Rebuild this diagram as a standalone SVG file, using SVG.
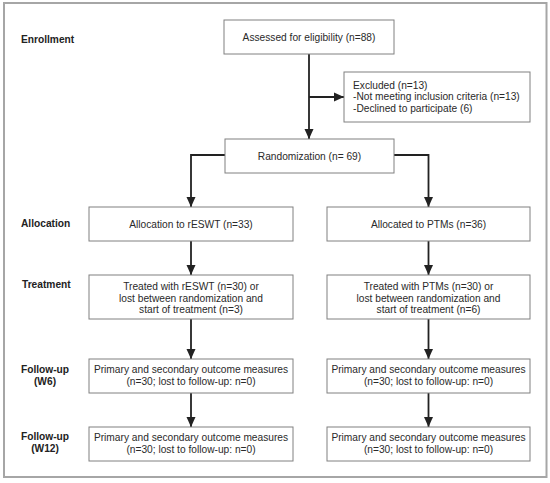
<svg xmlns="http://www.w3.org/2000/svg" width="550" height="483" viewBox="0 0 550 483">
<style>
.box{fill:#fff;stroke:#808080;stroke-width:1}
.t{font-family:"Liberation Sans",Arial,sans-serif;font-size:10.2px;fill:#2a2a2a}
.c{text-anchor:middle}
.lbl{font-family:"Liberation Sans",Arial,sans-serif;font-size:10.2px;font-weight:bold;fill:#222}
.ln{fill:none;stroke:#222;stroke-width:1.8}
</style>
<defs>
<marker id="ah" markerWidth="10" markerHeight="10" viewBox="0 0 10 10" refX="10" refY="5" orient="auto" markerUnits="userSpaceOnUse">
<path d="M0,0.5 L10,5 L0,9.5 Z" fill="#222"/>
</marker>
</defs>
<rect x="0" y="0" width="550" height="483" fill="#fff"/>
<rect x="4" y="3" width="542.5" height="474" fill="#fff" stroke="#a6a6a6" stroke-width="2"/>
<g id="labels">
<text class="lbl" x="21" y="43">Enrollment</text>
<text class="lbl" x="21" y="227">Allocation</text>
<text class="lbl" x="22" y="288">Treatment</text>
<text class="lbl c" x="45" y="373">Follow-up</text>
<text class="lbl c" x="45" y="385">(W6)</text>
<text class="lbl c" x="45" y="440">Follow-up</text>
<text class="lbl c" x="45" y="452">(W12)</text>
</g>
<g id="connectors">
<path class="ln" d="M309,54 V139" marker-end="url(#ah)"/>
<path class="ln" d="M309,97 H344" marker-end="url(#ah)"/>
<path class="ln" d="M225,155 H191 V207" marker-end="url(#ah)"/>
<path class="ln" d="M394,155 H428.5 V207" marker-end="url(#ah)"/>
<path class="ln" d="M191,241 V275" marker-end="url(#ah)"/>
<path class="ln" d="M428.5,241 V275" marker-end="url(#ah)"/>
<path class="ln" d="M191,319 V359" marker-end="url(#ah)"/>
<path class="ln" d="M428.5,319 V359" marker-end="url(#ah)"/>
<path class="ln" d="M191,393 V427" marker-end="url(#ah)"/>
<path class="ln" d="M428.5,393 V427" marker-end="url(#ah)"/>
</g>
<g id="assessed">
<rect class="box" x="224" y="20" width="170" height="34"/>
<text class="t c" x="309" y="41">Assessed for eligibility (n=88)</text>
</g>
<g id="excluded">
<rect class="box" x="344" y="72" width="186" height="50"/>
<text class="t" x="353" y="88.5">Excluded (n=13)</text>
<text class="t" x="353" y="100">-Not meeting inclusion criteria (n=13)</text>
<text class="t" x="353" y="111.5">-Declined to participate (6)</text>
</g>
<g id="randomization">
<rect class="box" x="225" y="139" width="169" height="34"/>
<text class="t c" x="309.5" y="160">Randomization (n= 69)</text>
</g>
<g id="alloc-reswt">
<rect class="box" x="89" y="207" width="204" height="34"/>
<text class="t c" x="191" y="227.5">Allocation to rESWT (n=33)</text>
</g>
<g id="alloc-ptms">
<rect class="box" x="327" y="207" width="203" height="34"/>
<text class="t c" x="428.5" y="227.5">Allocated to PTMs (n=36)</text>
</g>
<g id="treat-reswt">
<rect class="box" x="89" y="275" width="204" height="44"/>
<text class="t c" x="191" y="290">Treated with rESWT (n=30) or</text>
<text class="t c" x="191" y="301.5">lost between randomization and</text>
<text class="t c" x="191" y="313">start of treatment (n=3)</text>
</g>
<g id="treat-ptms">
<rect class="box" x="327" y="275" width="203" height="44"/>
<text class="t c" x="428.5" y="290">Treated with PTMs (n=30) or</text>
<text class="t c" x="428.5" y="301.5">lost between randomization and</text>
<text class="t c" x="428.5" y="313">start of treatment (n=6)</text>
</g>
<g id="w6-reswt">
<rect class="box" x="89" y="359" width="204" height="34"/>
<text class="t c" x="191" y="373">Primary and secondary outcome measures</text>
<text class="t c" x="191" y="384.5">(n=30; lost to follow-up: n=0)</text>
</g>
<g id="w6-ptms">
<rect class="box" x="327" y="359" width="203" height="34"/>
<text class="t c" x="428.5" y="373">Primary and secondary outcome measures</text>
<text class="t c" x="428.5" y="384.5">(n=30; lost to follow-up: n=0)</text>
</g>
<g id="w12-reswt">
<rect class="box" x="89" y="427" width="204" height="34"/>
<text class="t c" x="191" y="441">Primary and secondary outcome measures</text>
<text class="t c" x="191" y="452.5">(n=30; lost to follow-up: n=0)</text>
</g>
<g id="w12-ptms">
<rect class="box" x="327" y="427" width="203" height="34"/>
<text class="t c" x="428.5" y="441">Primary and secondary outcome measures</text>
<text class="t c" x="428.5" y="452.5">(n=30; lost to follow-up: n=0)</text>
</g>
</svg>
